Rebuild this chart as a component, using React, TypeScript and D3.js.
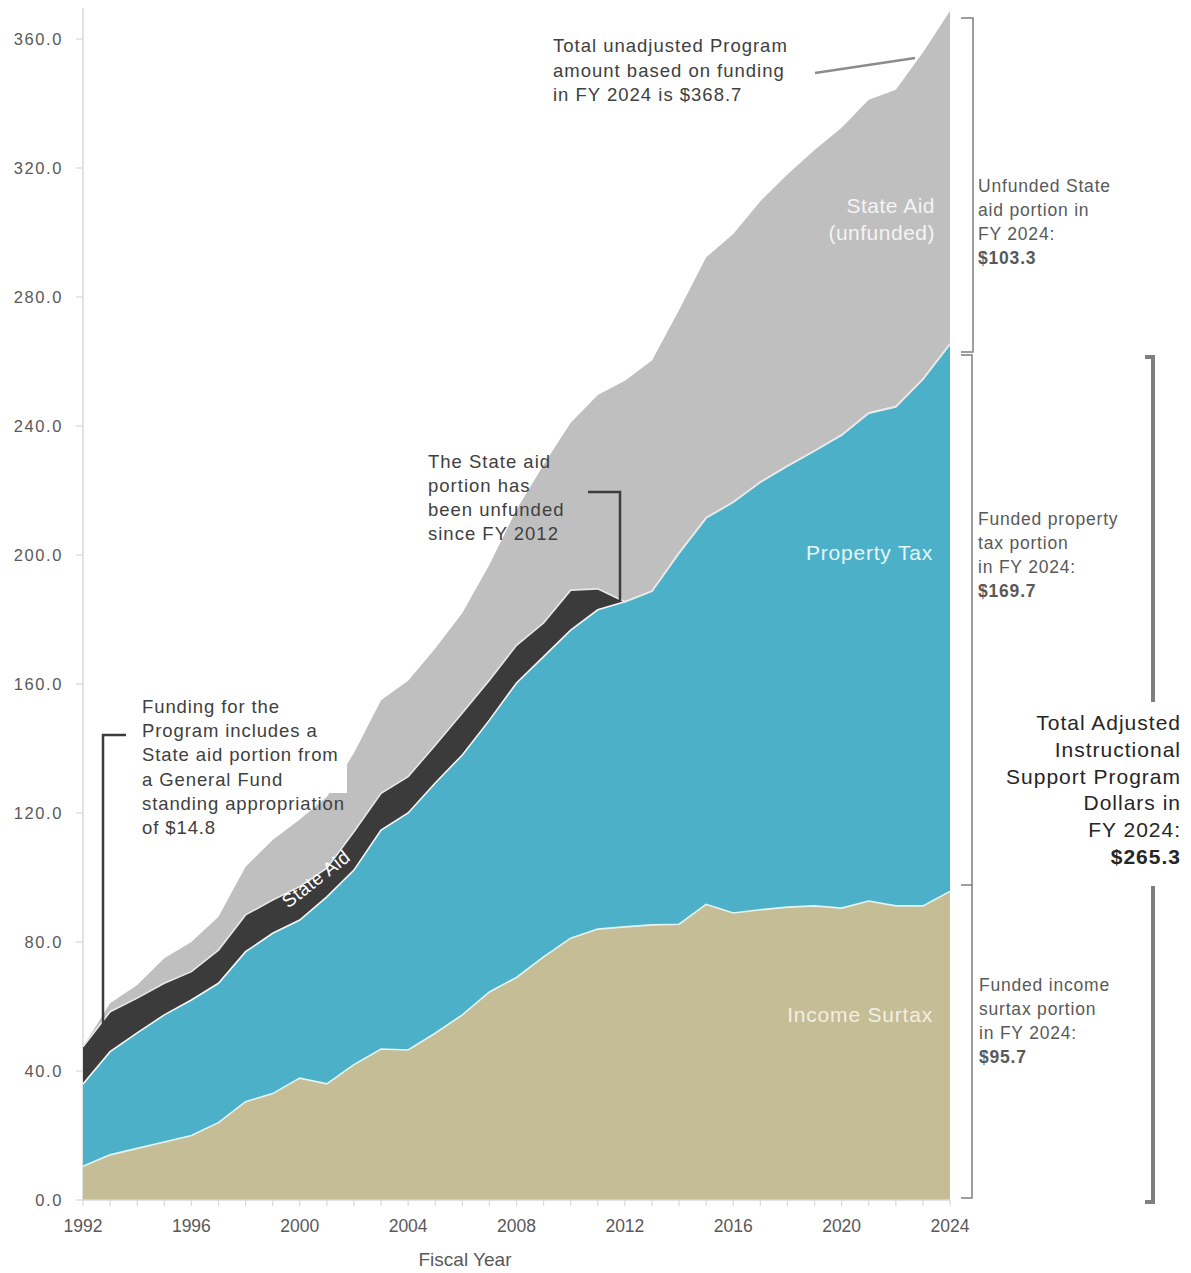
import React from 'react';
import * as d3 from 'd3';

const years = [1992, 1993, 1994, 1995, 1996, 1997, 1998, 1999, 2000, 2001, 2002, 2003, 2004, 2005, 2006, 2007, 2008, 2009, 2010, 2011, 2012, 2013, 2014, 2015, 2016, 2017, 2018, 2019, 2020, 2021, 2022, 2023, 2024];
const incomeSurtax = [10.5, 14, 16, 18, 20, 24, 30.5, 33, 37.8, 36, 42, 46.8, 46.5, 51.7, 57.4, 64.5, 69, 75.4, 81.2, 84, 84.7, 85.3, 85.5, 91.7, 89, 90, 90.8, 91.2, 90.5, 92.7, 91.2, 91.2, 95.7];
const propertyTax = [25.5, 32, 35.8, 39.4, 42, 43.2, 46.5, 49.7, 49, 58, 60.3, 67.9, 73.5, 77.6, 80.6, 84.3, 91.3, 93.1, 95.5, 99, 100.8, 103.5, 115.1, 119.8, 127.4, 132.6, 136.8, 141.1, 146.7, 151.3, 154.8, 163.3, 169.7];
const stateAid = [11.5, 12.4, 10.8, 9.8, 8.8, 10.3, 11.4, 10.3, 10.4, 8.9, 11.9, 11.4, 11.3, 11.7, 13, 12.4, 11.7, 10.4, 12.4, 6.5, 0, 0, 0, 0, 0, 0, 0, 0, 0, 0, 0, 0, 0];
const stateAidUnfunded = [0, 2.6, 4.1, 7.8, 9.2, 10.3, 14.9, 18.6, 20.8, 22.1, 24.4, 28.9, 29.7, 30, 31, 35.8, 42, 49.1, 51.9, 60.1, 68.5, 71.5, 75.4, 80.8, 83.1, 87.1, 90.4, 93.3, 95.3, 97.2, 98.3, 101.3, 103.3];
const yTicks = [0, 40, 80, 120, 160, 200, 240, 280, 320, 360];
const xTickLabels = [1992, 1996, 2000, 2004, 2008, 2012, 2016, 2020, 2024];

const seriesKeys = ['incomeSurtax', 'propertyTax', 'stateAid', 'stateAidUnfunded'];
const seriesColors: Record<string, string> = {
  incomeSurtax: '#c4bd96',
  propertyTax: '#4cb1c8',
  stateAid: '#3b3b3b',
  stateAidUnfunded: '#bfbfbf',
};
const sepColors = ['#e2f4f4', '#f4f8f8', '#e8e8e8'];

const W = 1191;
const H = 1273;
const FONT = "'Liberation Sans', Arial, sans-serif";

export default function App() {
  const x = d3.scaleLinear().domain([1992, 2024]).range([83, 950]);
  const y = d3.scaleLinear().domain([0, 360]).range([1200, 39]);

  const rows = years.map((yr, i) => ({
    year: yr,
    incomeSurtax: incomeSurtax[i],
    propertyTax: propertyTax[i],
    stateAid: stateAid[i],
    stateAidUnfunded: stateAidUnfunded[i],
  }));
  const stacked = d3.stack<any>().keys(seriesKeys)(rows);
  const area = d3
    .area<any>()
    .x((d) => x(d.data.year))
    .y0((d) => y(d[0]))
    .y1((d) => y(d[1]));
  const topLine = d3
    .line<any>()
    .x((d) => x(d.data.year))
    .y((d) => y(d[1]));

  const ann = '#404040';
  const side = '#595959';

  const textLines = (lines: string[], x0: number, y0: number, dy: number, props: any, boldLast = false) =>
    lines.map((t, i) => (
      <text key={i} x={x0} y={y0 + i * dy} fontWeight={boldLast && i === lines.length - 1 ? 'bold' : 'normal'} {...props}>
        {t}
      </text>
    ));

  return (
    <svg width={W} height={H} style={{ position: 'absolute', left: 0, top: 0, background: '#fff' }} fontFamily={FONT}>
      {/* axes lines */}
      <line x1={83} x2={83} y1={8} y2={1200} stroke="#d9d9d9" strokeWidth={1.5} />
      {yTicks.map((t) => (
        <g key={t}>
          <line x1={76} x2={83} y1={y(t)} y2={y(t)} stroke="#d9d9d9" strokeWidth={1.2} />
          <text x={63} y={y(t) + 6} textAnchor="end" fontSize={16.5} fill="#595959" letterSpacing={1.6}>
            {t.toFixed(1)}
          </text>
        </g>
      ))}

      {/* areas */}
      {stacked.map((layer) => (
        <path key={layer.key} d={area(layer) || ''} fill={seriesColors[layer.key]} />
      ))}
      {stacked.slice(0, 3).map((layer, i) => (
        <path key={'s' + layer.key} d={topLine(layer) || ''} fill="none" stroke={sepColors[i]} strokeWidth={1.6} />
      ))}

      {/* x axis */}
      <line x1={83} x2={950} y1={1200} y2={1200} stroke="#d9d9d9" strokeWidth={1.5} />
      {years.map((yr) => (
        <line key={yr} x1={x(yr)} x2={x(yr)} y1={1200} y2={1206} stroke="#d9d9d9" strokeWidth={1.2} />
      ))}
      {xTickLabels.map((yr) => (
        <text key={yr} x={x(yr)} y={1232} textAnchor="middle" fontSize={17.5} fill="#595959">
          {yr}
        </text>
      ))}
      <text x={465} y={1266} textAnchor="middle" fontSize={19} fill="#595959">
        Fiscal Year
      </text>

      {/* in-chart labels */}
      {textLines(['State Aid', '(unfunded)'], 935, 213, 27, { textAnchor: 'end', fontSize: 21, fill: '#f4f4f4', letterSpacing: 0.5 })}
      <text x={933} y={560} textAnchor="end" fontSize={21} fill="#e6f5f8" letterSpacing={0.8}>
        Property Tax
      </text>
      <text x={933} y={1022} textAnchor="end" fontSize={21} fill="#f2efe2" letterSpacing={0.8}>
        Income Surtax
      </text>
      <text x={0} y={0} transform="translate(320,884) rotate(-38)" textAnchor="middle" fontSize={19} fill="#ffffff" letterSpacing={0.5}>
        State Aid
      </text>

      {/* annotation: total unadjusted */}
      {textLines(['Total unadjusted Program', 'amount based on funding', 'in FY 2024 is $368.7'], 553, 52, 24.5, { fontSize: 18.5, fill: ann, letterSpacing: 1 })}
      <line x1={815} y1={73} x2={915} y2={58} stroke="#8c8c8c" strokeWidth={2.5} />

      {/* annotation: unfunded since 2012 */}
      {textLines(['The State aid', 'portion has', 'been unfunded', 'since FY 2012'], 428, 468, 24, { fontSize: 18.5, fill: ann, letterSpacing: 1 })}
      <polyline points="588,492 620,492 620,601" fill="none" stroke="#3c3c3c" strokeWidth={2.5} />

      {/* annotation: standing appropriation */}
      <rect x={137} y={690} width={210} height={103} fill="#ffffff" />
      {textLines(
        ['Funding for the', 'Program includes a', 'State aid portion from', 'a General Fund', 'standing appropriation', 'of $14.8'],
        142,
        713,
        24.2,
        { fontSize: 18.5, fill: ann, letterSpacing: 0.9 }
      )}
      <polyline points="126,735 103,735 103,1026" fill="none" stroke="#3c3c3c" strokeWidth={2.5} />

      {/* right thin brackets */}
      <polyline points="961,18 973,18 973,352 961,352" fill="none" stroke="#7f7f7f" strokeWidth={1.5} />
      <polyline points="961,355 972,355 972,885 961,885" fill="none" stroke="#7f7f7f" strokeWidth={1.5} />
      <polyline points="972,885 972,1198 961,1198" fill="none" stroke="#7f7f7f" strokeWidth={1.5} />

      {textLines(['Unfunded  State', 'aid portion  in', 'FY 2024:', '$103.3'], 978, 192, 24, { fontSize: 17.5, fill: side, letterSpacing: 0.8 }, true)}
      {textLines(['Funded  property', 'tax portion', 'in FY 2024:', '$169.7'], 978, 525, 24, { fontSize: 17.5, fill: side, letterSpacing: 0.8 }, true)}
      {textLines(['Funded  income', 'surtax portion', 'in FY 2024:', '$95.7'], 979, 991, 24, { fontSize: 17.5, fill: side, letterSpacing: 0.8 }, true)}

      {/* big bracket */}
      <polyline points="1145,357 1153,357 1153,702" fill="none" stroke="#7f7f7f" strokeWidth={4} />
      <polyline points="1153,886 1153,1202 1145,1202" fill="none" stroke="#7f7f7f" strokeWidth={4} />
      {textLines(
        ['Total Adjusted', 'Instructional', 'Support Program', 'Dollars in', 'FY 2024:', '$265.3'],
        1181,
        730,
        26.8,
        { fontSize: 21, fill: '#262626', textAnchor: 'end', letterSpacing: 1 },
        true
      )}
    </svg>
  );
}
